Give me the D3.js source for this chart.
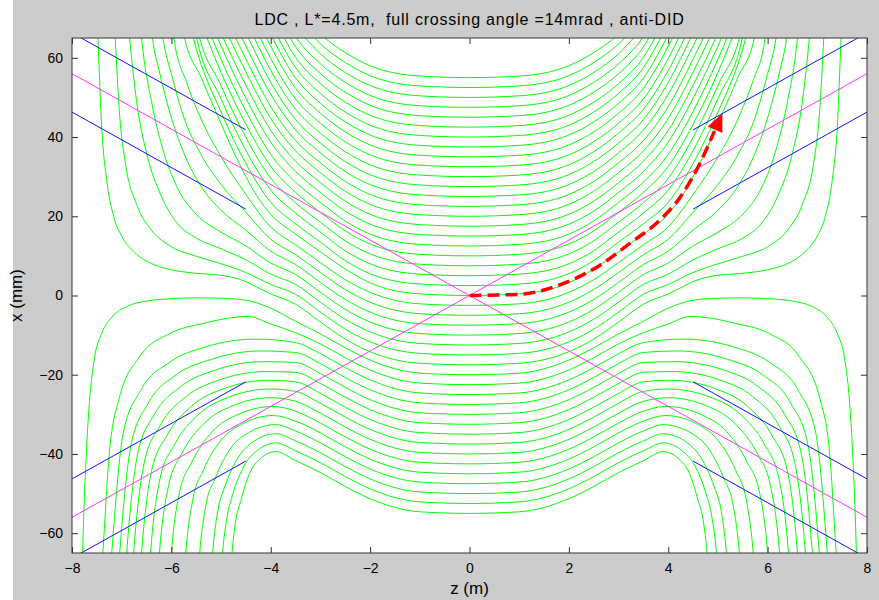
<!DOCTYPE html>
<html>
<head>
<meta charset="utf-8">
<script src="https://cdnjs.cloudflare.com/ajax/libs/d3/7.8.5/d3.min.js"></script>
<style>
  body { margin: 0; background: #cccccc; }
  text { font-family: "Liberation Sans", Arial, sans-serif; fill: #000; white-space: pre; }
</style>
</head>
<body>
<div id="canvas"></div>
<script>
"use strict"

/* chart text and ticks */
let titleText = "LDC , L*=4.5m,  full crossing angle =14mrad , anti-DID";
let zTicks = [-8, -6, -4, -2, 0, 2, 4, 6, 8];
let xTicks = [-60, -40, -20, 0, 20, 40, 60];

/* field lines, right half only (z >= 0), [z (m), x (mm)]; left half is the mirror */
let upperLines = [
    [[0,55],[1,55.4],[2,58],[2.5,61.3],[3,66],[3.5,73.3]],
    [[0,52.5],[1,52.9],[2,55.5],[2.5,58.8],[3,63.5],[3.5,70.6]],
    [[0,50],[1,50.4],[2,53],[2.5,56.3],[3,61],[3.5,68]],
    [[0,47.5],[1,47.9],[2,50.5],[2.5,53.8],[3,58.5],[3.5,65.4],[4,78]],
    [[0,45],[1,45.4],[2,48],[2.5,51.3],[3,56],[3.5,62.8],[4,75]],
    [[0,42.5],[1,42.9],[2,45.5],[2.5,48.8],[3,53.5],[3.5,60.1],[4,71.9]],
    [[0,40],[1,40.4],[2,43],[2.5,46.3],[3,51],[3.5,57.5],[4,68.9]],
    [[0,37.5],[1,37.9],[2,40.5],[2.5,43.8],[3,48.5],[3.5,54.9],[4,65.9],[4.5,79.5]],
    [[0,35],[1,35.4],[2,38],[2.5,41.3],[3,46],[3.5,52.3],[4,62.9],[4.5,76.2]],
    [[0,32.5],[1,32.9],[2,35.5],[2.5,38.8],[3,43.5],[3.5,49.6],[4,59.8],[4.5,72.9]],
    [[0,30],[1,30.4],[2,33],[2.5,36.3],[3,41],[3.5,47],[4,56.8],[4.5,69.6]],
    [[0,27.5],[1,27.9],[2,30.5],[2.5,33.8],[3,38.5],[3.5,44.4],[4,53.8],[4.5,66.3],[5,79.6]],
    [[0,25],[1,25.4],[2,28],[2.5,31.3],[3,36],[3.5,41.8],[4,50.8],[4.5,63],[5,76.3]],
    [[0,22.5],[1,22.9],[2,25.5],[2.5,28.8],[3,33.5],[3.5,39.1],[4,47.7],[4.5,59.7],[5,72.9]],
    [[0,20],[1,20.4],[2,23],[2.5,26.3],[3,31],[3.5,36.5],[4,44.7],[4.5,56.4],[5,69.6]],
    [[0,17.5],[1,17.9],[2,20.5],[2.5,23.8],[3,28.5],[3.5,33.9],[4,41.7],[4.5,53.1],[5,66.3],[5.5,82]],
    [[0,15],[1,15.4],[2,18],[2.5,21.3],[3,26],[3.5,31.3],[4,38.7],[4.5,49.8],[5,63],[5.5,78]],
    [[0,12.5],[1,12.9],[2,15.5],[2.5,18.8],[3,23.5],[3.5,28.6],[4,35.6],[4.5,46.5],[5,59.6],[5.5,75]],
    [[0,10],[1,10.4],[2,13],[2.5,16.3],[3,21],[3.5,26],[4,32.6],[4.5,43.2],[5,56.3],[5.5,72]],
    [[0,7.5],[1,7.9],[2,10.5],[2.5,13.8],[3,18.5],[3.5,23.4],[4,29.6],[4.5,39.9],[5,53],[5.5,68.8],[5.6,76]],
    [[0,5],[1,5.4],[2,8],[2.5,11.3],[3,16],[3.5,20.8],[4,26.6],[4.5,36.6],[5,49.7],[5.5,65.5],[5.6,72]],
    [[0,2.5],[1,2.9],[2,5.5],[2.5,8.8],[3,13.5],[3.5,18.1],[4,23.5],[4.5,33.3],[5,46.3],[5.5,62.3],[5.7,72]],
    [[0,0],[1,0.4],[2,3.2],[2.5,6.7],[3,11],[3.5,15.5],[4,20.5],[4.25,24.6],[4.65,33.7],[5.09,46],[5.4,55],[5.75,66],[5.82,72]],
    [[0,-2.5],[1,-2.1],[2,0.8],[2.5,4],[3,8.3],[3.5,12.8],[4,17.3],[4.5,25.5],[5,35],[5.4,44.5],[5.7,54],[5.95,65],[6.02,72]],
    [[0,-5],[1,-4.6],[2,-1.7],[2.5,1.5],[3,5.8],[3.5,10.3],[4,14.2],[4.5,21],[5,28],[5.4,35.5],[5.75,45],[6,56],[6.17,65],[6.24,72]],
    [[0,-7.5],[1,-7.1],[2,-4.2],[2.5,-1],[3,3.3],[3.5,7.8],[4,11.2],[4.5,16.5],[5,21.5],[5.4,27.5],[5.75,36],[6.05,47],[6.25,57],[6.38,65],[6.44,72]],
    [[0,-10],[1,-9.6],[2,-6.7],[2.5,-3.5],[3,0.8],[3.5,5.3],[4,8.2],[4.5,12.5],[5,16],[5.5,20.5],[5.85,26.5],[6.15,36],[6.4,49],[6.6,65],[6.65,72]],
    [[0,-12.5],[1,-12.1],[2,-9.2],[2.5,-6],[3,-1.7],[3.5,2.8],[4,5.4],[4.5,9],[5,11.8],[5.5,14.5],[5.9,18.5],[6.2,25],[6.5,36],[6.7,49],[6.84,65],[6.89,72]],
    [[0,-15],[1,-14.6],[2,-11.7],[2.5,-8.5],[3,-4.2],[3.5,0.3],[4,2.8],[4.5,5.8],[5,8],[5.5,9.9],[6,12.3],[6.4,16.5],[6.7,23],[6.92,33],[7.05,47],[7.13,65],[7.17,75]],
    [[0,-17.5],[1,-17.1],[2,-14.2],[2.5,-11],[3,-6.7],[3.5,-2.2],[4,0.4],[4.65,4.2],[5,5.1],[5.5,5.6],[6,6.5],[6.35,7.8],[6.75,11],[7,15],[7.15,19.5],[7.3,29],[7.4,42],[7.48,65],[7.52,75]]
];

let lowerLines = [
    [[0,-20],[1,-19.6],[2,-16.3],[2.5,-13.2],[3,-9.7],[3.5,-6.5],[4,-3.2],[4.5,-1.2],[5,-0.7],[5.5,-0.6],[6,-0.8],[6.5,-1.4],[6.9,-2.8],[7.2,-5.5],[7.4,-9.5],[7.55,-16],[7.65,-27],[7.72,-42],[7.77,-58],[7.8,-72]],
    [[0,-22.5],[1,-22.1],[2,-18.8],[2.5,-15.7],[3,-12.2],[3.5,-9.4],[4,-7.2],[4.45,-5.3],[4.9,-5.8],[5.3,-6.9],[6.03,-9.6],[6.63,-15.3],[7.05,-26],[7.25,-40],[7.38,-65],[7.42,-72]],
    [[0,-25],[1,-24.6],[2,-21.3],[2.5,-18.2],[3,-14.7],[3.5,-11.9],[4.3,-11],[5.32,-13],[6.04,-16.9],[6.62,-24],[6.97,-34.8],[7.2,-65],[7.24,-72]],
    [[0,-27.5],[1,-27.1],[2,-23.8],[2.5,-20.7],[3,-17.2],[3.5,-14.4],[4.2,-14],[5.19,-16.1],[5.9,-20],[6.47,-27.3],[6.81,-37.6],[7.04,-65],[7.08,-72]],
    [[0,-30],[1,-29.6],[2,-26.3],[2.5,-23.2],[3,-19.7],[3.5,-16.9],[4.15,-16.7],[5.11,-18.8],[5.8,-22.9],[6.35,-30.2],[6.68,-40.1],[6.9,-65],[6.94,-72]],
    [[0,-32.5],[1,-32.1],[2,-28.8],[2.5,-25.7],[3,-22.2],[3.5,-19.4],[4.1,-19.2],[5.03,-21.3],[5.7,-25.5],[6.23,-32.9],[6.55,-42.4],[6.76,-65],[6.8,-72]],
    [[0,-35],[1,-34.6],[2,-31.3],[2.5,-28.2],[3,-24.7],[3.5,-21.8],[4.05,-21.4],[4.94,-23.5],[5.58,-27.8],[6.09,-35.4],[6.4,-44.4],[6.6,-65],[6.64,-72]],
    [[0,-37.5],[1,-37.1],[2,-33.8],[2.5,-30.7],[3,-27.2],[3.5,-24.2],[4,-23.6],[4.85,-25.7],[5.45,-30],[5.94,-37.7],[6.23,-46.3],[6.42,-65],[6.46,-72]],
    [[0,-40],[1,-39.6],[2,-36.3],[2.5,-33.2],[3,-29.7],[3.5,-26.7],[4,-25.8],[4.78,-27.9],[5.34,-32.3],[5.79,-39.9],[6.06,-48.2],[6.24,-65],[6.28,-72]],
    [[0,-42.5],[1,-42.1],[2,-38.8],[2.5,-35.7],[3,-32.2],[3.5,-29.2],[3.95,-28],[4.67,-30.1],[5.18,-34.4],[5.59,-42.1],[5.84,-49.9],[6,-65],[6.04,-72]],
    [[0,-45],[1,-44.6],[2,-41.3],[2.5,-38.2],[3,-34.7],[3.5,-31.7],[3.95,-30.3],[4.57,-32.4],[5.01,-36.7],[5.36,-44.2],[5.57,-51.6],[5.71,-65],[5.75,-72]],
    [[0,-47.5],[1,-47.1],[2,-43.8],[2.5,-40.7],[3,-37.2],[3.5,-34.2],[3.9,-32.6],[4.44,-34.6],[4.82,-38.8],[5.12,-46.2],[5.31,-53.2],[5.43,-65],[5.47,-72]],
    [[0,-50],[1,-49.6],[2,-46.3],[2.5,-43.2],[3,-39.7],[3.5,-36.7],[3.9,-34.9],[4.34,-36.8],[4.66,-41],[4.92,-48.1],[5.07,-54.7],[5.17,-65],[5.21,-72]],
    [[0,-52.5],[1,-52.1],[2,-48.8],[2.5,-45.7],[3,-42.2],[3.5,-39.2],[3.9,-37.2],[4.27,-39.1],[4.54,-43.1],[4.76,-50],[4.88,-56],[4.97,-65],[5.01,-72]],
    [[0,-55],[1,-54.6],[2,-51.3],[2.5,-48.2],[3,-44.7],[3.5,-41.7],[3.9,-39.4],[4.21,-41.2],[4.43,-45],[4.6,-51.7],[4.71,-57.3],[4.78,-65],[4.82,-72]]
];

/* beam lines (7 mrad each side) and the +-10 mm beam pipe lines */
let beamLines = [
    [[-8, 56], [8, -56]],
    [[-8, -56], [8, 56]]
];
let pipeLines = [
    [[4.5, 41.8], [8, 66.3]],
    [[4.5, 21.8], [8, 46.3]],
    [[4.5, -41.8], [8, -66.3]],
    [[4.5, -21.8], [8, -46.3]],
    [[-4.5, 41.8], [-8, 66.3]],
    [[-4.5, 21.8], [-8, 46.3]],
    [[-4.5, -41.8], [-8, -66.3]],
    [[-4.5, -21.8], [-8, -46.3]]
];

/* red dashed path of the outgoing beam */
let redPath = [[0,0],[1,0.3],[1.88,3],[2.62,7.6],[3.22,13.1],[3.82,18.9],[4.25,25],[4.65,33.7],[4.93,41.5],[5.09,46]];

let drawing = d3.select("#canvas")
    .append("svg")
    .attr("width", 879)
    .attr("height", 600);

drawing.append("rect")
    .attr("width", 879)
    .attr("height", 600)
    .attr("fill", "#cccccc");

/* thin white strip along the left edge of the screenshot */
drawing.append("rect")
    .attr("width", 13)
    .attr("height", 600)
    .attr("fill", "white");

let plotLeft = 72, plotRight = 867, plotTop = 38, plotBottom = 553;

let zScale = d3.scaleLinear().domain([-8, 8]).range([plotLeft, plotRight]);
let xScale = d3.scaleLinear().domain([-65, 65]).range([plotBottom, plotTop]);

drawing.append("rect")
    .attr("x", plotLeft)
    .attr("y", plotTop)
    .attr("width", plotRight - plotLeft)
    .attr("height", plotBottom - plotTop)
    .attr("fill", "white");

drawing.append("clipPath")
    .attr("id", "plotClip")
    .append("rect")
    .attr("x", plotLeft)
    .attr("y", plotTop)
    .attr("width", plotRight - plotLeft)
    .attr("height", plotBottom - plotTop);

let plot = drawing.append("g").attr("clip-path", "url(#plotClip)");

let lineGen = d3.line()
    .x(d => zScale(d[0]))
    .y(d => xScale(d[1]))
    .curve(d3.curveMonotoneX);

// mirror the right half to get the whole field line
function fullLine(half) {
    let leftHalf = half.slice(1).reverse().map(p => [-p[0], p[1]]);
    return leftHalf.concat(half);
}

let allField = upperLines.concat(lowerLines);
plot.selectAll(".field")
    .data(allField)
    .enter()
    .append("path")
    .attr("class", "field")
    .attr("d", d => lineGen(fullLine(d)))
    .attr("fill", "none")
    .attr("stroke", "#00ff00")
    .attr("stroke-width", 1);

let straight = d3.line()
    .x(d => zScale(d[0]))
    .y(d => xScale(d[1]));

plot.selectAll(".pipe")
    .data(pipeLines)
    .enter()
    .append("path")
    .attr("class", "pipe")
    .attr("d", straight)
    .attr("stroke", "#1010ff")
    .attr("stroke-width", 1);

plot.selectAll(".beam")
    .data(beamLines)
    .enter()
    .append("path")
    .attr("class", "beam")
    .attr("d", straight)
    .attr("stroke", "#ff33ff")
    .attr("stroke-width", 1);

/* red dashed arrow */
let redShaft = redPath.slice(0, redPath.length - 1);
plot.append("path")
    .attr("d", lineGen(redShaft))
    .attr("fill", "none")
    .attr("stroke", "#ff0000")
    .attr("stroke-width", 3.5)
    .attr("stroke-dasharray", "12,6");

let tip = redPath[redPath.length - 1];
let back = redPath[redPath.length - 2];
let tx = zScale(tip[0]), ty = xScale(tip[1]);
let bx = zScale(back[0]), by = xScale(back[1]);
let len = Math.hypot(tx - bx, ty - by);
let ux = (tx - bx) / len, uy = (ty - by) / len;
let headLen = 18, headHalf = 8;
let baseX = tx - ux * headLen, baseY = ty - uy * headLen;
plot.append("polygon")
    .attr("points", [
        [tx, ty],
        [baseX - uy * headHalf, baseY + ux * headHalf],
        [baseX + uy * headHalf, baseY - ux * headHalf]
    ].map(p => p.join(",")).join(" "))
    .attr("fill", "#ff0000");

/* axes box with inward ticks, MATLAB style */
drawing.append("rect")
    .attr("x", plotLeft)
    .attr("y", plotTop)
    .attr("width", plotRight - plotLeft)
    .attr("height", plotBottom - plotTop)
    .attr("fill", "none")
    .attr("stroke", "#333")
    .attr("stroke-width", 1);

let bottomAxis = drawing.append("g")
    .attr("transform", "translate(0," + plotBottom + ")")
    .call(d3.axisBottom(zScale).tickValues(zTicks).tickSize(-6).tickPadding(10).tickFormat(d3.format("d")));
let topAxis = drawing.append("g")
    .attr("transform", "translate(0," + plotTop + ")")
    .call(d3.axisTop(zScale).tickValues(zTicks).tickSize(-6).tickFormat(""));
let leftAxis = drawing.append("g")
    .attr("transform", "translate(" + plotLeft + ",0)")
    .call(d3.axisLeft(xScale).tickValues(xTicks).tickSize(-6).tickPadding(9).tickFormat(d3.format("d")));
let rightAxis = drawing.append("g")
    .attr("transform", "translate(" + plotRight + ",0)")
    .call(d3.axisRight(xScale).tickValues(xTicks).tickSize(-6).tickFormat(""));

[bottomAxis, topAxis, leftAxis, rightAxis].forEach(a => {
    a.select(".domain").remove();
    a.selectAll(".tick line").attr("stroke", "#333");
    a.selectAll("text")
        .attr("font-family", "'Liberation Sans', Arial, sans-serif")
        .attr("font-size", 14)
        .attr("fill", "#000");
});

/* title and axis labels */
drawing.append("text")
    .attr("x", (plotLeft + plotRight) / 2)
    .attr("y", 25)
    .attr("text-anchor", "middle")
    .attr("font-size", 16)
    .attr("letter-spacing", 0.8)
    .text(titleText);

drawing.append("text")
    .attr("x", (plotLeft + plotRight) / 2)
    .attr("y", 594)
    .attr("text-anchor", "middle")
    .attr("font-size", 17)
    .text("z (m)");

drawing.append("text")
    .attr("transform", "translate(22," + (plotTop + plotBottom) / 2 + ") rotate(-90)")
    .attr("text-anchor", "middle")
    .attr("font-size", 17)
    .text("x (mm)");
</script>
</body>
</html>
